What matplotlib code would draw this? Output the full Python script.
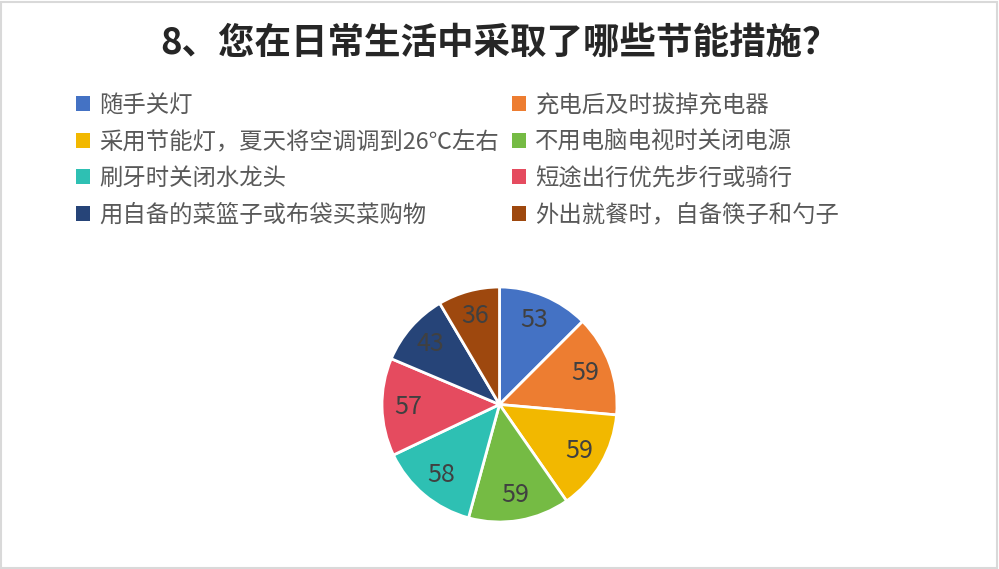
import matplotlib
matplotlib.use("Agg")
import matplotlib.pyplot as plt
from matplotlib.patches import Rectangle, Patch

plt.rcParams['font.family'] = ['Noto Sans CJK SC', 'DejaVu Sans']

title = "8、您在日常生活中采取了哪些节能措施？"
categories = ["随手关灯", "充电后及时拔掉充电器", "采用节能灯，夏天将空调调到26℃左右",
              "不用电脑电视时关闭电源", "刷牙时关闭水龙头", "短途出行优先步行或骑行",
              "用自备的菜篮子或布袋买菜购物", "外出就餐时，自备筷子和勺子"]
values = [53, 59, 59, 59, 58, 57, 43, 36]
colors = ["#4472C4", "#ED7D31", "#F2B800", "#75BB44", "#2EC0B3", "#E54B5F", "#264478", "#9E480E"]

W, H = 999, 569
fig = plt.figure(figsize=(W/100, H/100), dpi=100)
fig.patch.set_facecolor("white")
fig.add_artist(Rectangle((1/W, 1/H), 1-3/W, 1-3/H, transform=fig.transFigure,
                         fill=False, edgecolor="#D9D9D9", linewidth=1.5))

fig.text(0.5, 1-43/H, title, ha="center", va="center", fontsize=26.3,
         fontweight="bold", color="#262626")

cx, cy, r = 499.5, 404.5, 117.5
ax = fig.add_axes([(cx-r)/W, 1-(cy+r)/H, 2*r/W, 2*r/H])
wedges, texts = ax.pie(values, colors=colors, startangle=90, counterclock=False,
                       labels=[str(v) for v in values], labeldistance=0.78,
                       wedgeprops=dict(edgecolor="white", linewidth=2),
                       textprops=dict(fontsize=18, color="#404040"))
for t in texts:
    t.set_ha("center")
    t.set_va("center")
ax.set_xlim(-1, 1)
ax.set_ylim(-1, 1)
ax.set_aspect("equal")
ax.axis("off")

order = [0, 2, 4, 6, 1, 3, 5, 7]
handles = [Patch(facecolor=colors[i], edgecolor="none") for i in order]
labels = [categories[i] for i in order]
leg = fig.legend(handles, labels, ncol=2, loc="upper left",
                 bbox_to_anchor=(55/W, 1-73/H), frameon=False,
                 fontsize=16.8, handlelength=0.6, handleheight=0.6,
                 handletextpad=0.4, columnspacing=0.55, labelspacing=0.58,
                 labelcolor="#595959")

fig.savefig("out.png", dpi=100)
